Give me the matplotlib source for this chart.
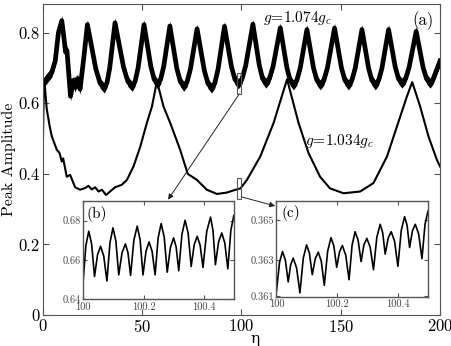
import numpy as np
import matplotlib
matplotlib.use('Agg')
import matplotlib.pyplot as plt
from matplotlib.patches import Rectangle

plt.rcParams['font.family'] = 'serif'
plt.rcParams['font.serif'] = ['cmr10']
plt.rcParams['mathtext.fontset'] = 'cm'
plt.rcParams['axes.formatter.use_mathtext'] = True

# g = 1.074 g_c : centre of the thick band (peaks, shoulders, minima)
eta_hi = [0, 2.0, 4.6, 6.3, 7.9, 9.6, 10.7, 11.5, 12.2, 14.0, 15.5, 16.3, 17.5, 18.8, 20.5,
          22.5, 26.75, 28.875, 31.0, 32.35, 33.7, 36.4, 40.7, 42.85, 45.0, 46.5, 48.0,
          51.0, 54.4, 56.1, 57.8, 59.35, 60.9, 64.0, 67.5, 69.25, 71.0, 72.675, 74.35,
          77.7, 81.35, 83.175, 85.0, 86.625, 88.25, 91.5, 95.0, 96.75, 98.5, 100.325, 102.15,
          105.8, 109.05, 110.675, 112.3, 114.125, 115.95, 119.6, 122.9, 124.55, 126.2, 127.9,
          129.6, 133.0, 136.35, 138.025, 139.7, 141.5, 143.3, 146.9, 150.4, 152.15, 153.9,
          155.6, 157.3, 160.7, 164.05, 165.725, 167.4, 169.075, 170.75, 174.1, 177.45,
          179.125, 180.8, 182.6, 184.4, 188.0, 191.5, 193.25, 195.0, 196.5, 200.0]
amp_hi = [0.655, 0.670, 0.688, 0.720, 0.800, 0.834, 0.785, 0.745, 0.750, 0.620, 0.665, 0.645,
          0.670, 0.640, 0.720,
          0.823, 0.697, 0.657, 0.643, 0.658, 0.699, 0.828, 0.702, 0.662, 0.648, 0.662, 0.700,
          0.823, 0.705, 0.668, 0.655, 0.668, 0.704, 0.819, 0.699, 0.662, 0.648, 0.661, 0.697,
          0.811, 0.693, 0.656, 0.643, 0.657, 0.696, 0.818, 0.704, 0.668, 0.655, 0.669, 0.706,
          0.824, 0.707, 0.670, 0.657, 0.670, 0.704, 0.814, 0.701, 0.665, 0.652, 0.665,
          0.699, 0.809, 0.699, 0.665, 0.652, 0.665, 0.700, 0.813, 0.700, 0.665, 0.652,
          0.665, 0.699, 0.809, 0.699, 0.665, 0.652, 0.665, 0.699, 0.809, 0.703,
          0.669, 0.657, 0.669, 0.701, 0.804, 0.701, 0.669, 0.657, 0.668, 0.720]
spread_hi = 0.014  # half height of the fast-oscillation band

# g = 1.034 g_c
eta_lo = [0, 0.5, 1.0, 2.0, 3.5, 4.6, 7.1, 8.4, 9.6, 10.3, 12.1, 13.8, 16.3, 18.8, 21.4, 23.0,
          24.7, 26.4, 28.1, 29.8, 31.9, 33.9, 36.4, 39.8, 42.4, 45.7, 49.1, 52.4, 55.0, 57.5,
          60.8, 64.2, 69.2, 73.0, 77.6, 82.6, 87.7, 92.7, 96.0, 99.6, 102.8, 109.5, 116.2,
          123.0, 128.8, 133.8, 139.6, 144.6, 151.4, 159.8, 166.5, 173.3, 178.3, 183.3, 186.0,
          190.0, 194.2, 198.4, 200.0]
amp_lo = [0.45, 0.63, 0.655, 0.585, 0.535, 0.506, 0.468, 0.46, 0.435, 0.444, 0.392, 0.397,
          0.362, 0.355, 0.36, 0.366, 0.356, 0.362, 0.35, 0.355, 0.34, 0.35, 0.362, 0.369, 0.383,
          0.421, 0.477, 0.544, 0.591, 0.663, 0.591, 0.544, 0.468, 0.40, 0.383, 0.355, 0.343,
          0.347, 0.353, 0.359, 0.383, 0.449, 0.544, 0.668, 0.544, 0.459, 0.392, 0.359, 0.345,
          0.350, 0.374, 0.449, 0.534, 0.619, 0.660, 0.591, 0.506, 0.44, 0.421]

# inset (b): zoom of g = 1.074 g_c around eta = 100
eta_b = [100.0, 100.0095, 100.019, 100.0285, 100.038, 100.048, 100.058, 100.0685, 100.079,
         100.089, 100.099, 100.1085, 100.118, 100.129, 100.140, 100.1485, 100.157, 100.168,
         100.179, 100.1885, 100.198, 100.208, 100.218, 100.228, 100.238, 100.248, 100.258,
         100.268, 100.278, 100.2885, 100.299, 100.3075, 100.316, 100.3265, 100.337, 100.347,
         100.357, 100.367, 100.377, 100.3865, 100.396, 100.4085, 100.421, 100.429, 100.437,
         100.4475, 100.458, 100.468, 100.478, 100.488, 100.498, 100.5]
amp_b = [0.648, 0.6672, 0.6746, 0.6681, 0.6515, 0.6626, 0.6669, 0.6619, 0.6492, 0.6687, 0.6763,
         0.6696, 0.6523, 0.6637, 0.6681, 0.6636, 0.6520, 0.6701, 0.6772, 0.6702, 0.6523, 0.6644,
         0.6691, 0.6644, 0.6523, 0.6712, 0.6785, 0.6716, 0.6537, 0.6663, 0.6712, 0.6665, 0.6544,
         0.6730, 0.6802, 0.6736, 0.6566, 0.6677, 0.6720, 0.6675, 0.6561, 0.6746, 0.6818, 0.6750,
         0.6575, 0.6692, 0.6737, 0.6686, 0.6554, 0.6751, 0.6828, 0.682]

# inset (c): zoom of g = 1.034 g_c around eta = 100
eta_c = [100.0, 100.0100, 100.0199, 100.0293, 100.0386, 100.0469, 100.0552, 100.0663, 100.0773,
         100.0883, 100.0993, 100.1087, 100.1181, 100.1281, 100.1380, 100.1479, 100.1578,
         100.1689, 100.1799, 100.1893, 100.1987, 100.2081, 100.2174, 100.2285, 100.2395,
         100.2495, 100.2594, 100.2693, 100.2792, 100.2886, 100.2980, 100.3091, 100.3201,
         100.3312, 100.3422, 100.3505, 100.3587, 100.3687, 100.3786, 100.3897, 100.4007,
         100.4117, 100.4227, 100.4310, 100.4393, 100.4487, 100.4581, 100.4691, 100.4801,
         100.4901, 100.5000]
amp_c = [0.36145, 0.36288, 0.36343, 0.36300, 0.36191, 0.36277, 0.36310, 0.36261, 0.36136,
         0.36309, 0.36376, 0.36334, 0.36227, 0.36308, 0.36340, 0.36294, 0.36174, 0.36345,
         0.36412, 0.36371, 0.36264, 0.36342, 0.36373, 0.36325, 0.36202, 0.36375, 0.36442,
         0.36400, 0.36293, 0.36377, 0.36409, 0.36365, 0.36252, 0.36415, 0.36479, 0.36437,
         0.36330, 0.36411, 0.36442, 0.36394, 0.36269, 0.36448, 0.36517, 0.36474, 0.36363,
         0.36447, 0.36479, 0.36431, 0.36307, 0.36478, 0.36545]

main_xticks = [0, 50, 100, 150, 200]
main_yticks = [0, 0.2, 0.4, 0.6, 0.8]
inset_xticks = [100, 100.2, 100.4]
inset_xlabels = ['100', '100.2', '100.4']
b_yticks = [0.64, 0.66, 0.68]
c_yticks = [0.3612, 0.363, 0.365]
c_ylabels = ['0.361', '0.363', '0.365']

spine_col = '#555555'

fig = plt.figure(figsize=(4.52, 3.46), dpi=100)
ax = fig.add_axes([0.0945, 0.0896, 0.879, 0.8974])

hi = np.array(amp_hi)
ax.fill_between(eta_hi, hi - spread_hi, hi + spread_hi, color='black', lw=0)
ax.plot(eta_hi, amp_hi, color='black', lw=3.4, solid_joinstyle='round')
ax.plot(eta_lo, amp_lo, color='black', lw=1.5)

ax.set_xlim(0, 200)
ax.set_ylim(0, 0.88)
ax.set_xticks(main_xticks)
ax.set_yticks(main_yticks)
ax.set_yticklabels(['0', '0.2', '0.4', '0.6', '0.8'])
ax.tick_params(direction='in', top=True, right=True, labelsize=12, length=4,
               color=spine_col, pad=2)
for s in ax.spines.values():
    s.set_color(spine_col)
ax.set_xlabel('η', family='DejaVu Serif', fontsize=11)
ax.xaxis.set_label_coords(0.535, -0.056)
ax.set_ylabel('Peak Amplitude', fontsize=11.5)
ax.yaxis.set_label_coords(-0.068, 0.5)

ax.text(128.3, 0.841, r'$g\!=\!1.074g_c$', fontsize=11, ha='center', va='center')
ax.text(149.5, 0.494, r'$g\!=\!1.034g_c$', fontsize=11, ha='center', va='center')
ax.text(197, 0.86, '(a)', fontsize=12, ha='right', va='top')

# zoom boxes
ax.add_patch(Rectangle((98.0, 0.627), 1.8, 0.059, fill=False, ec=spine_col, lw=0.8, zorder=5))
ax.add_patch(Rectangle((98.0, 0.329), 1.8, 0.060, fill=False, ec=spine_col, lw=0.8, zorder=5))
ax.annotate('', xy=(63.1, 0.327), xytext=(99.0, 0.627),
            arrowprops=dict(arrowstyle='-|>', color='#222222', lw=0.7, mutation_scale=8,
                            shrinkA=0, shrinkB=0))
ax.annotate('', xy=(117.0, 0.309), xytext=(99.9, 0.335),
            arrowprops=dict(arrowstyle='-|>', color='#222222', lw=0.7, mutation_scale=8,
                            shrinkA=0, shrinkB=0))

# inset (b)
axb = fig.add_axes([0.1836, 0.1358, 0.3352, 0.2832])
axb.plot(eta_b, amp_b, color='black', lw=1.2)
axb.set_xlim(100, 100.5)
axb.set_ylim(0.64, 0.69)
axb.set_xticks(inset_xticks)
axb.set_xticklabels(inset_xlabels)
axb.set_yticks(b_yticks)
axb.set_yticklabels(['0.64', '0.66', '0.68'])
axb.text(0.02, 0.95, '(b)', transform=axb.transAxes, fontsize=11, va='top', ha='left')

# inset (c)
axc = fig.add_axes([0.6117, 0.143, 0.3352, 0.2775])
axc.plot(eta_c, amp_c, color='black', lw=1.2)
axc.set_xlim(100, 100.5)
axc.set_ylim(0.36118, 0.36598)
axc.set_xticks(inset_xticks)
axc.set_xticklabels(inset_xlabels)
axc.set_yticks(c_yticks)
axc.set_yticklabels(c_ylabels)
axc.text(0.03, 0.95, '(c)', transform=axc.transAxes, fontsize=11, va='top', ha='left')

for a in (axb, axc):
    a.tick_params(direction='in', top=True, right=True, labelsize=7.5, length=3,
                  color=spine_col, labelcolor='#444444', pad=1.5)
    a.tick_params(axis='x', pad=2.5)
    for s in a.spines.values():
        s.set_color(spine_col)
        s.set_linewidth(1.0)

fig.savefig('out.png', dpi=100)
